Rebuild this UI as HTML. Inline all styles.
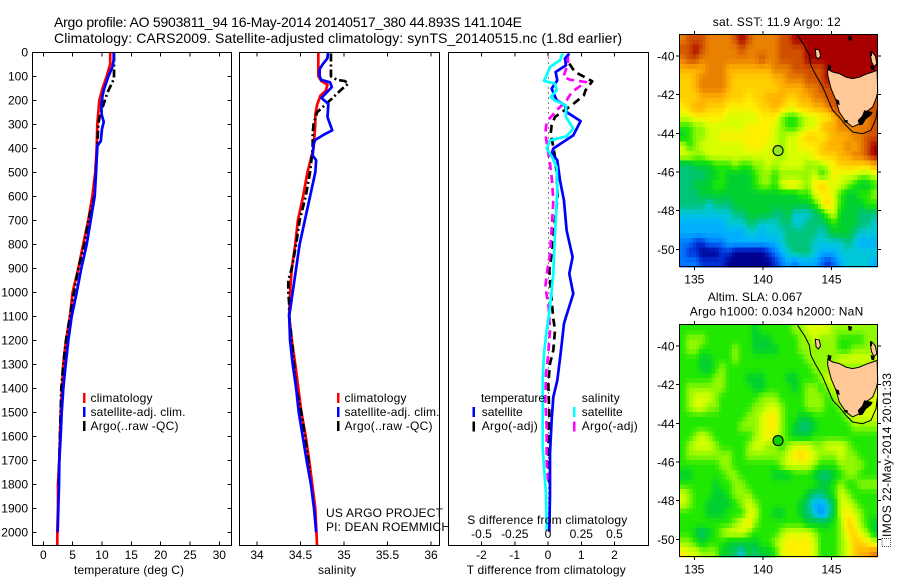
<!DOCTYPE html>
<html>
<head>
<meta charset="utf-8">
<title>Argo profile</title>
<style>
html,body{margin:0;padding:0;background:#fff;}
svg{display:block;font-family:"Liberation Sans",sans-serif;font-size:12px;fill:#000;}
</style>
</head>
<body>
<svg id="fig" xmlns="http://www.w3.org/2000/svg" width="900" height="580" viewBox="0 0 900 580">
<rect width="900" height="580" fill="#fff"/>
<g id="mapA"></g>
<g id="mapB"></g>
<g id="panelT"></g>
<g id="panelS"></g>
<g id="panelD"></g>

<text x="54" y="27" font-size="14" textLength="468" lengthAdjust="spacing">Argo profile: AO 5903811_94 16-May-2014 20140517_380 44.893S 141.104E</text>
<text x="54" y="43" font-size="14" textLength="568" lengthAdjust="spacing">Climatology: CARS2009. Satellite-adjusted climatology: synTS_20140515.nc (1.8d earlier)</text>

<text x="129" y="574" text-anchor="middle" textLength="110">temperature (deg C)</text>
<text x="337" y="574" text-anchor="middle" textLength="38">salinity</text>
<text x="466.7" y="574" textLength="159">T difference from climatology</text>
<text x="467.3" y="524" textLength="160">S difference from climatology</text>

<g>
<rect x="83" y="393" width="2.5" height="10" fill="#f00"/>
<rect x="83" y="407" width="2.5" height="10" fill="#00f"/>
<rect x="83" y="421" width="2.5" height="10" fill="#000"/>
<text x="90.5" y="402" textLength="62">climatology</text>
<text x="90.5" y="416" textLength="95">satellite-adj. clim.</text>
<text x="90.5" y="430" textLength="88">Argo(..raw -QC)</text>
</g>
<g>
<rect x="337" y="393" width="2.5" height="10" fill="#f00"/>
<rect x="337" y="407" width="2.5" height="10" fill="#00f"/>
<rect x="337" y="421" width="2.5" height="10" fill="#000"/>
<text x="344.5" y="402" textLength="62">climatology</text>
<text x="344.5" y="416" textLength="95">satellite-adj. clim.</text>
<text x="344.5" y="430" textLength="88">Argo(..raw -QC)</text>
</g>
<text x="326" y="517" textLength="117">US ARGO PROJECT</text>
<text x="326" y="531" textLength="124">PI: DEAN ROEMMICH</text>

<g>
<text x="481" y="402" textLength="64">temperature</text>
<rect x="472.5" y="407" width="2.5" height="10" fill="#00f"/>
<rect x="472.5" y="421.5" width="2.5" height="10" fill="#000"/>
<text x="481.7" y="416" textLength="41">satellite</text>
<text x="481.7" y="430" textLength="56">Argo(-adj)</text>
<text x="581.7" y="402" textLength="38">salinity</text>
<rect x="573" y="407" width="2.5" height="10" fill="#0ff"/>
<rect x="573" y="421.5" width="2.5" height="10" fill="#f0f"/>
<text x="581.7" y="416" textLength="41">satellite</text>
<text x="581.7" y="430" textLength="56">Argo(-adj)</text>
</g>

<text x="712.7" y="26" textLength="128">sat. SST: 11.9 Argo: 12</text>
<text x="707.7" y="301" textLength="94.6">Altim. SLA: 0.067</text>
<text x="689.7" y="315.5" textLength="173.6">Argo h1000: 0.034 h2000: NaN</text>

<rect x="882" y="538.5" width="8.5" height="8" fill="#fff" stroke="#444" stroke-width="1" stroke-dasharray="1 1"/>
<text transform="translate(891,537) rotate(-90)" textLength="164">IMOS 22-May-2014 20:01:33</text>
</svg>

<script>
// ---------- profile data ----------
const depthTicks = [0,100,200,300,400,500,600,700,800,900,1000,1100,1200,1300,1400,1500,1600,1700,1800,1900,2000];
const tempTicks = [0,5,10,15,20,25,30];
const salTicks = [34,34.5,35,35.5,36];
const salTickLabels = ['34','34.5','35','35.5','36'];
const diffTTicks = [-2,-1,0,1,2];
const diffSTicks = [-0.5,-0.25,0,0.25,0.5];
const diffSTickLabels = ['-0.5','-0.25','0','0.25','0.5'];

const tClimDepth = [0,50,100,150,200,300,400,500,600,700,800,900,1000,1100,1200,1300,1400,1500,1600,1700,1800,1900,2000,2054];
const tClimValue = [11.4,11.4,10.8,10.1,9.55,9.2,9.1,8.86,8.35,7.67,6.8,5.97,5.0,4.55,3.87,3.4,3.2,2.96,2.85,2.73,2.5,2.5,2.39,2.39];
const tSatDepth = [0,30,60,100,150,180,220,260,290,320,370,390,500,600,700,800,900,1000,1100,1200,1300,1400,1500,1600,1700,1800,1900,2000];
const tSatValue = [12,12,11.8,11.1,10.4,10.1,9.9,9.95,10.3,10,9.8,9.2,9,8.76,8.08,7.4,6.48,5.7,4.84,4.27,3.82,3.41,3.14,2.96,2.73,2.68,2.56,2.45];
const tArgoDepth = [5,60,110,130,170,220,260,300,400,500,600,700,800,900,1000,1100,1200,1300,1400,1500,1800];
const tArgoValue = [12.05,12.05,12.05,11.66,10.9,10.23,9.66,9.37,9.2,8.93,8.7,7.67,7,5.97,5.23,4.55,3.87,3.4,3.07,2.96,2.6];

const sClimDepth = [0,100,120,135,160,180,220,260,300,400,500,600,700,800,900,1000,1100,1200,1300,1400,1500,1600,1700,1800,1900,2054];
const sClimValue = [34.705,34.705,34.74,34.81,34.79,34.73,34.69,34.67,34.67,34.65,34.58,34.53,34.47,34.44,34.4,34.38,34.37,34.4,34.44,34.475,34.51,34.56,34.6,34.635,34.67,34.69];
const sSatDepth = [0,25,50,70,100,115,125,145,160,190,215,270,300,325,345,365,385,430,450,500,600,700,800,900,1000,1100,1200,1300,1400,1500,1600,1700,1800,1900,2000];
const sSatValue = [34.816,34.81,34.755,34.72,34.72,34.74,34.84,34.86,34.82,34.74,34.82,34.81,34.84,34.865,34.76,34.67,34.65,34.64,34.68,34.67,34.61,34.55,34.49,34.45,34.41,34.37,34.38,34.41,34.45,34.48,34.525,34.57,34.62,34.655,34.68];
const sArgoDepth = [5,100,115,120,130,155,200,250,300,340,400,500,600,700,800,900,950,1000,1050,1100,1200,1300,1400,1500,1600,1700,1750];
const sArgoValue = [34.85,34.85,34.92,35.01,35.05,34.97,34.84,34.69,34.65,34.64,34.64,34.61,34.56,34.49,34.45,34.4,34.36,34.36,34.37,34.37,34.4,34.425,34.45,34.51,34.55,34.59,34.61];

const dTSatDepth = [5,26,54,82,117,151,200,221,249,287,346,401,422,450,533,617,742,853,922,1006,1103,1131,1255,1367,1436,1533,1672,1839,1998];
const dTSatValue = [0.64,0.51,0.54,0.23,0.28,0.11,0.26,0.51,0.56,0.98,0.76,0.16,0.11,0.28,0.36,0.48,0.56,0.74,0.64,0.76,0.54,0.48,0.38,0.28,0.16,0.11,0.06,0.06,0.04];
const dTArgoDepth = [47,82,100,121,158,179,221,269,304,339,394,436,506,603,700,811,908,1033,1110,1158,1241,1297,1380,1519,1589,1811];
const dTArgoValue = [0.64,0.81,1.06,1.33,1.13,1.08,0.71,0.21,0.11,0.08,0.16,0.21,0.26,0.29,0.21,0.14,0.04,0.11,0.16,0.21,0.16,0.06,0.01,0.04,0.01,0.03];
const dSSatDepth = [5,33,61,89,119,130,158,186,200,221,269,318,350,367,401,436,478,575,783,922,1061,1158,1255,1367,1644,1728,1839,1992];
const dSSatValue = [0.11,0.09,0.015,-0.005,-0.03,0.05,0.065,0.02,0.05,0.135,0.135,0.19,0.14,0.015,-0.01,0.03,0.065,0.07,0.05,0.04,0.015,-0.01,-0.03,-0.04,-0.04,-0.03,-0.015,-0.01];
const dSArgoDepth = [12,47,103,114,124,165,200,242,290,339,394,464,533,617,714,839,908,978,1061,1158,1269,1339,1450,1561,1700,1783];
const dSArgoValue = [0.15,0.15,0.115,0.165,0.285,0.18,0.14,0.065,-0.01,-0.02,-0.005,0.015,0.03,0.04,0.03,0.015,-0.005,-0.02,0.005,0.015,0,-0.015,-0.02,-0.01,-0.01,0];

// ---------- map data (colour-scale level per 0.5-degree cell, north to south) ----------
const lonTicks = [135,140,145];
const latTicks = [-40,-42,-44,-46,-48,-50];
const argoLon = 141.104;
const argoLat = -44.893;
const sstRows = [
[13,14,14,14,13,13,13,13,14,15,14,13,13,13,13,14,14,15,15,15,15,15,15,15,15,15,15,15,15,15],
[14,14,15,14,13,13,13,13,13,14,13,13,13,13,13,14,14,14,14,15,15,15,15,15,15,15,15,15,15,15],
[13,14,14,13,13,13,13,13,13,13,13,13,14,13,13,14,14,14,14,15,15,15,15,15,15,15,15,15,15,15],
[12,12,12,12,13,13,13,12,12,12,12,12,12,12,13,13,13,14,14,14,14,14,15,15,15,15,15,15,15,15],
[11,11,12,13,13,13,13,12,11,11,11,11,11,11,12,12,13,13,13,14,14,14,15,15,15,15,15,15,15,15],
[11,11,12,13,13,13,13,12,11,11,11,11,11,11,11,12,12,12,12,13,13,14,14,14,14,14,14,14,14,14],
[11,11,11,12,12,12,12,11,11,11,10,11,11,12,12,12,11,11,12,12,13,13,14,14,14,14,14,14,14,14],
[10,11,12,12,11,11,11,10,10,10,10,10,11,11,12,11,10,10,11,11,12,12,13,14,14,14,14,14,14,14],
[9,9,10,10,10,10,10,9,9,9,9,9,10,10,10,8,7,7,8,9,9,10,10,12,13,13,13,13,13,14],
[7,7,8,8,9,9,9,9,9,9,10,10,10,10,9,8,7,7,8,9,9,11,12,12,13,13,13,13,13,14],
[6,7,8,8,9,9,10,10,10,10,10,10,10,10,9,8,9,9,10,11,11,10,11,12,12,12,13,13,14,14],
[9,7,8,9,9,9,9,9,9,9,10,10,10,9,9,8,9,9,10,10,10,11,12,12,12,13,12,13,14,15],
[9,9,8,8,9,9,9,9,9,9,9,9,9,9,9,8,9,9,9,9,10,11,11,11,12,12,13,13,14,15],
[5,5,6,6,6,7,7,7,8,7,7,8,8,9,8,9,9,9,9,8,8,8,9,10,11,11,11,11,11,12],
[5,5,5,5,6,6,7,6,6,6,6,7,8,8,7,8,8,8,8,8,9,7,8,10,9,9,9,8,8,9],
[5,5,6,6,6,7,7,6,6,6,6,7,8,8,7,9,10,10,9,8,10,11,10,9,9,8,7,6,6,7],
[5,5,5,6,6,6,6,6,6,6,6,6,6,6,6,6,6,6,7,7,9,10,10,9,7,6,6,7,7,8],
[5,5,5,5,4,5,5,5,6,6,6,6,6,6,6,6,6,6,6,6,7,9,11,9,7,6,6,6,7,7],
[4,4,4,4,4,4,4,4,5,5,6,6,6,6,5,5,6,4,4,4,5,6,8,9,6,6,6,5,5,5],
[3,3,3,3,3,3,3,4,4,4,5,5,4,4,4,5,5,4,4,5,5,5,6,7,6,6,6,5,5,4],
[3,3,3,3,3,3,3,3,3,3,4,4,3,4,4,4,5,5,5,5,5,4,5,6,6,6,5,4,4,4],
[2,2,1,1,2,2,2,3,3,3,3,3,3,3,3,4,5,5,5,5,4,4,4,4,4,5,4,3,3,3],
[2,1,1,0,0,0,1,1,0,0,0,0,0,1,2,3,4,5,5,5,4,3,3,3,4,4,4,4,4,4],
[2,2,2,1,1,1,1,0,0,0,0,0,0,0,1,2,3,2,3,3,3,2,1,2,3,4,4,4,4,3]
];
const slaRows = [
[7,7,7,7,7,7,7,7,7,7,7,6,7,7,7,7,7,8,8,9,9,9,9,8,8,8,8,8,8,8],
[7,8,8,8,7,7,7,7,7,7,7,6,6,6,7,7,7,7,8,8,9,8,8,8,7,7,7,7,8,8],
[7,8,8,7,7,7,7,7,8,7,7,6,6,6,6,7,7,7,8,8,8,8,8,8,7,7,8,8,8,8],
[7,7,7,6,6,7,7,7,8,7,7,7,7,7,7,7,7,7,7,8,8,8,8,8,9,9,9,9,9,9],
[7,7,7,6,6,7,8,7,7,7,7,7,7,7,7,7,7,7,7,7,8,8,8,8,8,8,8,8,8,8],
[7,7,7,7,7,8,8,7,7,7,6,6,6,7,7,7,6,6,7,7,7,8,9,9,9,9,9,9,9,9],
[7,8,8,8,8,8,8,7,7,7,7,6,6,7,7,7,7,6,7,8,8,7,8,9,9,9,9,9,9,9],
[7,8,9,9,9,8,7,7,7,7,7,7,8,8,8,7,7,7,7,8,8,8,7,8,9,9,9,9,9,9],
[7,8,9,9,8,8,7,7,7,7,7,8,8,9,9,8,7,7,7,8,8,8,7,7,8,9,9,9,9,9],
[7,7,7,7,7,7,7,7,7,7,8,8,9,10,10,8,7,7,6,6,7,7,7,7,7,8,9,9,9,9],
[7,7,7,7,7,7,7,7,7,8,8,8,9,10,10,8,7,6,5,5,6,7,7,7,7,7,8,8,8,8],
[7,7,8,9,8,7,7,7,7,7,7,8,9,10,9,8,7,6,6,6,7,7,7,7,7,7,7,7,7,7],
[7,8,9,9,9,8,7,7,7,7,8,9,9,8,8,7,8,9,9,9,8,8,9,9,9,8,7,7,7,7],
[7,8,8,8,8,8,8,8,7,7,8,8,8,8,8,8,9,10,11,10,9,8,8,8,9,8,8,7,7,7],
[7,7,7,7,7,7,8,8,7,7,7,7,7,7,7,8,9,9,9,9,8,7,7,7,8,8,8,8,7,7],
[6,6,7,7,7,7,7,8,8,7,7,7,7,7,6,6,6,7,7,7,6,5,5,6,7,8,8,7,7,7],
[7,7,7,7,7,6,7,7,8,8,7,7,7,7,7,7,7,7,7,7,7,6,6,7,8,7,7,8,8,8],
[9,8,7,7,7,6,6,7,8,8,8,7,7,7,7,7,7,7,7,6,5,5,6,7,9,8,7,7,7,7],
[9,8,7,7,6,6,6,6,7,8,9,8,7,7,7,7,7,7,6,5,3,3,4,6,9,9,8,7,7,7],
[7,7,7,7,6,6,6,7,7,7,9,9,7,7,6,6,7,7,6,5,4,2,4,6,9,10,9,8,7,7],
[7,7,7,7,7,7,7,7,8,9,10,8,7,7,7,7,7,7,7,6,6,6,6,7,8,11,10,8,7,6],
[7,7,6,5,6,7,8,9,9,9,8,7,7,7,7,8,9,9,9,9,8,7,7,7,8,10,11,9,8,6],
[8,8,7,6,7,7,7,6,6,6,6,6,7,7,8,9,10,10,10,10,9,7,7,7,8,9,11,11,10,9],
[10,9,9,8,8,8,6,6,5,4,6,5,6,6,7,9,10,10,10,10,9,7,7,7,8,9,11,12,12,13]
];
// coastline, as [lon, lat] geography
const tasmaniaCoast = [[144.72,-40.69],[145.09,-40.83],[145.57,-40.91],[146.06,-41.09],[146.54,-41.17],[147.03,-41.09],[147.64,-40.91],[148.0,-40.83],[148.32,-40.74],[148.37,-41.86],[148.24,-42.21],[148.0,-42.64],[147.51,-42.9],[147.27,-43.16],[147.03,-43.5],[146.54,-43.67],[146.06,-43.41],[145.57,-42.9],[145.33,-42.29],[144.97,-41.69],[144.72,-41.0]];
const kingIsland = [[143.82,-39.65],[144.12,-39.7],[144.2,-40.0],[144.05,-40.15],[143.88,-40.05]];
const flindersIsland = [[147.95,-39.8],[148.2,-40.0],[148.3,-40.4],[148.1,-40.55],[147.92,-40.3],[147.85,-40.0]];
const shelfLine = [[142.53,-38.93],[143.02,-39.45],[143.38,-39.96],[143.5,-40.48],[143.87,-41.0],[144.36,-41.6],[144.72,-42.21],[145.09,-42.81],[145.57,-43.16],[146.06,-43.59],[146.54,-43.93],[147.27,-44.02],[147.88,-43.84],[148.24,-43.24],[148.37,-42.55]];
const blackIslets = [
[[147.03,-43.59],[146.91,-43.33],[147.22,-43.1],[147.39,-42.81],[148.0,-42.9],[147.88,-43.07],[147.51,-43.27],[147.27,-43.55]],
[[145.9,-43.3],[146.2,-43.33],[146.15,-43.47],[145.95,-43.42]],
[[145.25,-42.2],[145.55,-42.3],[145.6,-42.55],[145.35,-42.45]],
[[144.72,-40.45],[145.0,-40.5],[144.95,-40.72],[144.72,-40.7]],
[[146.2,-38.95],[146.5,-39.0],[146.45,-39.2],[146.25,-39.2]],
[[147.85,-40.45],[148.15,-40.55],[148.1,-40.75],[147.9,-40.7]],
[[147.8,-39.75],[147.95,-39.75],[147.95,-40.0],[147.82,-40.0]]
];

// ---------- helpers ----------
const NS = 'http://www.w3.org/2000/svg';
function mk(parent, tag, attrs) {
  const el = document.createElementNS(NS, tag);
  for (const k in attrs) el.setAttribute(k, attrs[k]);
  parent.appendChild(el);
  return el;
}
function pathFrom(xs, ys) {
  return xs.map((x, i) => (i ? 'L' : 'M') + x.toFixed(2) + ' ' + ys[i].toFixed(2)).join(' ');
}

// ---------- axis functions ----------
const yDepth = d => 52.3 + 0.24 * d;
const xTemp = t => 43.3 + 5.867 * t;
const xSal = s => 257 + 87 * (s - 34);
const xDT = t => 548 + 33.25 * t;
const xDS = s => 548 + 133 * s;
const xLon = lon => 694.3 + 13.72 * (lon - 135);
const yLatA = lat => 56 + 19.33 * (-40 - lat);
const yLatB = lat => 346 + 19.33 * (-40 - lat);

const curveGroup = {T: document.getElementById('panelT'), S: document.getElementById('panelS'), D: document.getElementById('panelD')};

function drawCurve(group, depth, values, xf, color, dash, name) {
  const el = mk(group, 'path', {
    d: pathFrom(values.map(xf), depth.map(yDepth)),
    fill: 'none', stroke: color, 'stroke-width': 2.7,
    'stroke-linejoin': 'round', 'stroke-dasharray': dash
  });
  
  
}
function drawFrame(group, x0, x1, y0, y1, name) {
  const el = mk(group, 'rect', {x: x0, y: y0, width: x1 - x0, height: y1 - y0, fill: 'none', stroke: '#000', 'stroke-width': 1, 'shape-rendering': 'crispEdges'});
  
  
}
function tickMark(group, x1, y1, x2, y2) {
  const el = mk(group, 'line', {x1, y1, x2, y2, stroke: '#000', 'stroke-width': 1, 'shape-rendering': 'crispEdges'});
  
  
}
function tickLabel(group, x, y, anchor, str) {
  const el = mk(group, 'text', {x, y, 'text-anchor': anchor});
  el.textContent = str;
  
  
}

const pTop = 52.5, pBot = 545.5;

// ---------- temperature panel ----------
drawCurve(curveGroup.T, tClimDepth, tClimValue, xTemp, '#f00', 'none', 'temperature-climatology-line');
drawCurve(curveGroup.T, tArgoDepth, tArgoValue, xTemp, '#000', '8 3 2 3', 'temperature-argo-line');
drawCurve(curveGroup.T, tSatDepth, tSatValue, xTemp, '#00f', 'none', 'temperature-satellite-line');
drawFrame(curveGroup.T, 32.5, 231.5, pTop, pBot, 'temperature-plot-frame');
tempTicks.forEach(t => {
  tickMark(curveGroup.T, xTemp(t), pTop, xTemp(t), pTop + 4);
  tickMark(curveGroup.T, xTemp(t), pBot, xTemp(t), pBot - 4);
  tickLabel(curveGroup.T, xTemp(t), 559, 'middle', String(t));
});
depthTicks.forEach(d => {
  tickMark(curveGroup.T, 32.5, yDepth(d), 36.5, yDepth(d));
  tickMark(curveGroup.T, 231.5, yDepth(d), 227.5, yDepth(d));
  tickLabel(curveGroup.T, 28, yDepth(d) + 4, 'end', String(d));
});

// ---------- salinity panel ----------
drawCurve(curveGroup.S, sClimDepth, sClimValue, xSal, '#f00', 'none', 'salinity-climatology-line');
drawCurve(curveGroup.S, sArgoDepth, sArgoValue, xSal, '#000', '8 3 2 3', 'salinity-argo-line');
drawCurve(curveGroup.S, sSatDepth, sSatValue, xSal, '#00f', 'none', 'salinity-satellite-line');
drawFrame(curveGroup.S, 239.5, 439.5, pTop, pBot, 'salinity-plot-frame');
salTicks.forEach((s, i) => {
  tickMark(curveGroup.S, xSal(s), pTop, xSal(s), pTop + 4);
  tickMark(curveGroup.S, xSal(s), pBot, xSal(s), pBot - 4);
  tickLabel(curveGroup.S, xSal(s), 559, 'middle', salTickLabels[i]);
});

// ---------- difference panel ----------
const zeroLine = mk(curveGroup.D, 'line', {x1: xDT(0) + 0.5, y1: pTop, x2: xDT(0) + 0.5, y2: yDepth(2000), stroke: '#000', 'stroke-width': 1, 'stroke-dasharray': '1 4', 'shape-rendering': 'crispEdges'});


drawCurve(curveGroup.D, dTArgoDepth, dTArgoValue, xDT, '#000', '8 5', 't-difference-argo-line');
drawCurve(curveGroup.D, dSArgoDepth, dSArgoValue, xDS, '#f0f', '8 5', 's-difference-argo-line');
drawCurve(curveGroup.D, dTSatDepth, dTSatValue, xDT, '#00f', 'none', 't-difference-satellite-line');
drawCurve(curveGroup.D, dSSatDepth, dSSatValue, xDS, '#0ff', 'none', 's-difference-satellite-line');
drawFrame(curveGroup.D, 448.5, 648.5, pTop, pBot, 'difference-plot-frame');
diffTTicks.forEach(t => {
  tickMark(curveGroup.D, xDT(t), pTop, xDT(t), pTop + 4);
  tickMark(curveGroup.D, xDT(t), pBot, xDT(t), pBot - 4);
  tickLabel(curveGroup.D, xDT(t), 559, 'middle', String(t));
});
diffSTicks.forEach((s, i) => {
  tickLabel(curveGroup.D, xDS(s), 538, 'middle', diffSTickLabels[i]);
});

// ---------- maps ----------
const cmapStops = [[0,0,144],[0,48,216],[0,120,255],[0,176,255],[0,200,216],[0,196,120],[0,208,48],[32,232,0],[144,248,0],[216,255,0],[255,240,0],[255,208,0],[255,176,0],[232,128,0],[208,80,0],[168,0,0]];
function levelColor(v) {
  const lo = Math.max(0, Math.min(cmapStops.length - 1, Math.floor(v)));
  const hi = Math.min(cmapStops.length - 1, lo + 1);
  const f = Math.max(0, Math.min(1, v - lo));
  const c = cmapStops[lo].map((a, i) => Math.round(a + (cmapStops[hi][i] - a) * f));
  return 'rgb(' + c.join(',') + ')';
}
function sampleGrid(rows, r, c) {
  const rr = Math.max(0, Math.min(rows.length - 1, r));
  const cc = Math.max(0, Math.min(rows[0].length - 1, c));
  const r0 = Math.floor(rr), c0 = Math.floor(cc);
  const r1 = Math.min(rows.length - 1, r0 + 1), c1 = Math.min(rows[0].length - 1, c0 + 1);
  const fr = rr - r0, fc = cc - c0;
  return (rows[r0][c0] * (1 - fc) + rows[r0][c1] * fc) * (1 - fr) + (rows[r1][c0] * (1 - fc) + rows[r1][c1] * fc) * fr;
}
function drawMap(group, rows, yLat, markerFill, framePrefix) {
  const lonW = 133.91, lonE = 148.34, latN = -38.91, latS = -50.91;
  const sub = 2;
  const nr = rows.length * sub, nc = rows[0].length * sub;
  const dLon = (lonE - lonW) / nc, dLat = (latN - latS) / nr;
  for (let r = 0; r < nr; r++) {
    for (let c = 0; c < nc; c++) {
      const v = sampleGrid(rows, (r + 0.5) / sub - 0.5, (c + 0.5) / sub - 0.5);
      const x0 = xLon(lonW + c * dLon), x1 = xLon(lonW + (c + 1) * dLon);
      const y0 = yLat(latN - r * dLat), y1 = yLat(latN - (r + 1) * dLat);
      const cell = mk(group, 'rect', {x: x0.toFixed(2), y: y0.toFixed(2), width: (x1 - x0 + 0.4).toFixed(2), height: (y1 - y0 + 0.4).toFixed(2), fill: levelColor(v), 'shape-rendering': 'crispEdges'});
      
      
    }
  }
  const toPts = pts => pts.map(p => xLon(p[0]).toFixed(1) + ',' + yLat(p[1]).toFixed(1)).join(' ');
  [tasmaniaCoast, kingIsland, flindersIsland].forEach(poly => {
    const land = mk(group, 'polygon', {points: toPts(poly), fill: '#ffc896', stroke: '#000', 'stroke-width': 1});
    
    
  });
  blackIslets.forEach(poly => {
    const islet = mk(group, 'polygon', {points: toPts(poly), fill: '#000'});
    
    
  });
  const shelf = mk(group, 'polyline', {points: toPts(shelfLine), fill: 'none', stroke: '#000', 'stroke-width': 1});
  
  
  const marker = mk(group, 'circle', {cx: xLon(argoLon), cy: yLat(argoLat), r: 5, fill: markerFill, stroke: '#000', 'stroke-width': 1.1});
  
  

  const top = yLat(latN), bot = yLat(latS);
  const fTop = Math.round(top) + 0.5 - 1, fBot = Math.round(bot) + 0.5 - 1;
  drawFrame(group, 679.5, 877.5, fTop, fBot, framePrefix + '-frame');
  lonTicks.forEach(lon => {
    tickMark(group, xLon(lon), fTop, xLon(lon), fTop - 3.5);
    tickMark(group, xLon(lon), fBot, xLon(lon), fBot + 3.5);
    tickLabel(group, xLon(lon), fBot + 17, 'middle', String(lon));
  });
  latTicks.forEach(lat => {
    tickMark(group, 679.5, yLat(lat), 676, yLat(lat));
    tickMark(group, 877.5, yLat(lat), 881, yLat(lat));
    tickLabel(group, 674.5, yLat(lat) + 4.5, 'end', String(lat));
  });
}
drawMap(document.getElementById('mapA'), sstRows, yLatA, '#90e820', 'sst-map');
drawMap(document.getElementById('mapB'), slaRows, yLatB, '#10d000', 'sla-map');
</script>
</body>
</html>
